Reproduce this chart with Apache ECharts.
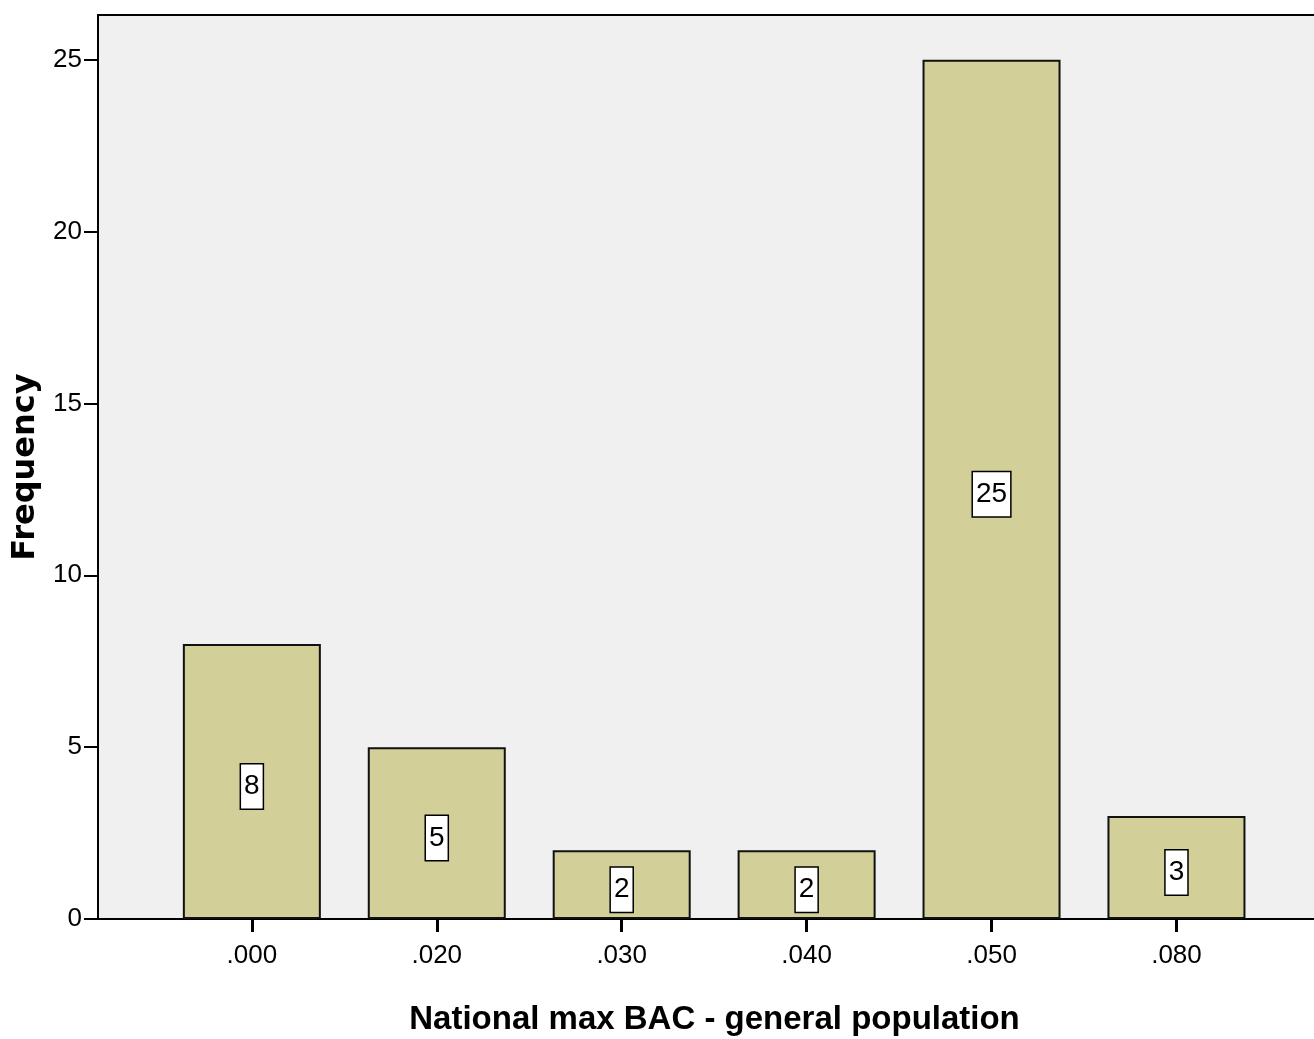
<!DOCTYPE html>
<html>
<head>
<meta charset="utf-8">
<script src="https://cdn.jsdelivr.net/npm/echarts@6/dist/echarts.min.js"></script>
<style>html,body{margin:0;padding:0;background:#fff}#c{width:1314px;height:1039px}</style>
</head>
<body>
<div id="c"></div>
<script>
var categories = ['.000', '.020', '.030', '.040', '.050', '.080'];
var frequencies = [8, 5, 2, 2, 25, 3];
var yTicks = [0, 5, 10, 15, 20, 25];

var narrow = '"Liberation Sans Narrow", "Arial Narrow", "Liberation Sans", Arial, sans-serif';
var catIdx = categories.map(function (c, i) { return i; });
var barData = frequencies.map(function (v, i) { return [i, v]; });

var chart = echarts.init(document.getElementById('c'), null, { renderer: 'canvas' });
chart.setOption({
  animation: false,
  backgroundColor: '#fff',
  grid: {
    left: 98, top: 15, right: -3, bottom: 120,
    outerBoundsMode: 'none', containLabel: false,
    show: true, backgroundColor: '#f0f0f0', borderColor: '#000', borderWidth: 2
  },
  xAxis: {
    type: 'value', min: -0.832, max: 5.76,
    name: 'National max BAC - general population',
    nameLocation: 'middle', nameGap: 84,
    nameTextStyle: { fontFamily: narrow, fontWeight: 'bold', fontSize: 33, color: '#000', padding: [0, 0, 0, 14] },
    axisLine: { show: true, onZero: false, lineStyle: { color: '#000', width: 2 } },
    axisTick: { show: true, inside: false, length: 13, lineStyle: { color: '#000', width: 3 }, customValues: catIdx },
    axisLabel: {
      customValues: catIdx, margin: 24, fontFamily: narrow, fontSize: 26, color: '#000',
      formatter: function (v) { return categories[Math.round(v)]; }
    },
    splitLine: { show: false }
  },
  yAxis: {
    type: 'value', min: 0, max: 26.3,
    name: 'Frequency', nameLocation: 'middle', nameGap: 46,
    nameTextStyle: { fontFamily: '"DejaVu Sans", sans-serif', fontWeight: 'bold', fontSize: 32, color: '#000' },
    axisLine: { show: true, onZero: false, lineStyle: { color: '#000', width: 2 } },
    axisTick: { show: true, inside: false, length: 14, lineStyle: { color: '#000', width: 2 }, customValues: yTicks },
    axisLabel: { customValues: yTicks, margin: 16, fontFamily: narrow, fontSize: 26, color: '#000' },
    splitLine: { show: false }
  },
  series: [{
    type: 'bar',
    data: barData,
    barWidth: 138,
    itemStyle: { color: '#d3cf99', borderColor: '#111', borderWidth: 2 },
    label: {
      show: true, position: 'inside', offset: [0, 5],
      fontFamily: narrow, fontSize: 28, color: '#000',
      backgroundColor: '#fff', borderColor: '#000', borderWidth: 1.5,
      padding: [9, 3, 7, 3],
      formatter: function (p) { return p.value[1]; }
    }
  }]
});
</script>
</body>
</html>
